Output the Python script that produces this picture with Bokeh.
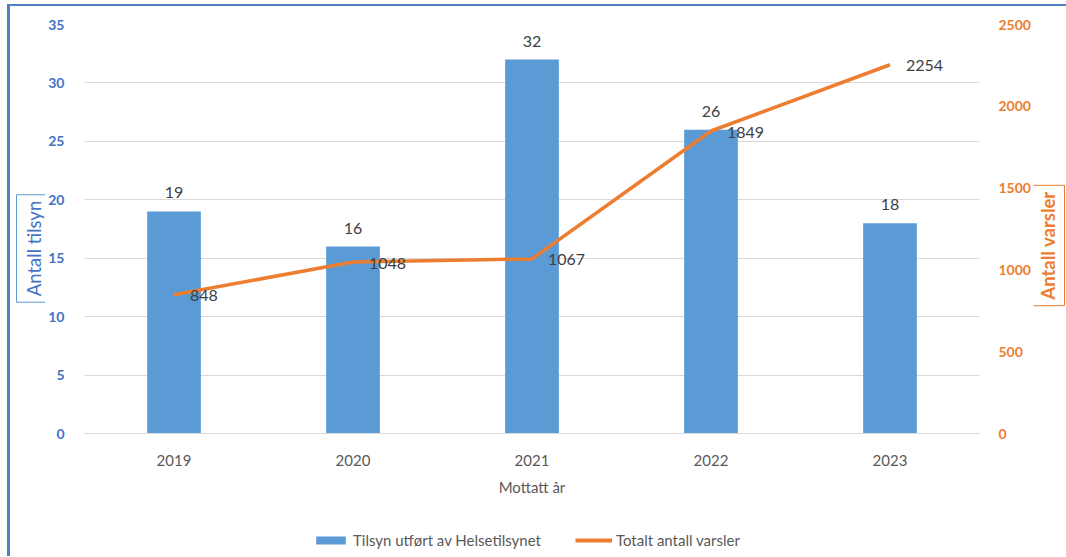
import math
from bokeh.plotting import figure
from bokeh.layouts import column, row
from bokeh.models import (ColumnDataSource, Range1d, LinearAxis, LabelSet, Label,
                          Legend, LegendItem, FactorRange, SingleIntervalTicker)
from bokeh.core.properties import value
from bokeh.embed import file_html
from bokeh.resources import INLINE

years = ["2019", "2020", "2021", "2022", "2023"]
tilsyn = [19, 16, 32, 26, 18]
varsler = [848, 1048, 1067, 1849, 2254]

BLUE = "#5B9BD5"
BLUE_TXT = "#4472C4"
ORANGE = "#ED7D31"
GREY_TXT = "#595959"
FONT = "Lato"

src = ColumnDataSource(dict(year=years, tilsyn=tilsyn, varsler=varsler,
                            tl=[str(v) for v in tilsyn], vl=[str(v) for v in varsler]))

p = figure(x_range=FactorRange(*years, range_padding=0), y_range=Range1d(0, 35),
           frame_width=895, frame_height=409, output_backend="svg", toolbar_location=None,
           min_border_left=35, min_border_right=50, min_border_top=18, min_border_bottom=0)
p.extra_y_ranges = {"v": Range1d(0, 2500)}
p.outline_line_color = None

bars = p.vbar(x="year", top="tilsyn", width=0.3, source=src, fill_color=BLUE, line_color=None)
line = p.line(x="year", y="varsler", source=src, line_color=ORANGE, line_width=3.5,
              y_range_name="v")

p.add_layout(LabelSet(x="year", y="tilsyn", text="tl", source=src, text_align="center",
                      text_baseline="bottom", y_offset=13, text_font=value(FONT),
                      text_font_size="16px", text_color="#404040"))
p.add_layout(LabelSet(x="year", y="varsler", text="vl", source=src, text_align="left",
                      text_baseline="middle", x_offset=16, y_offset=-1, text_font=value(FONT),
                      text_font_size="16px", text_color="#404040", y_range_name="v"))

# axes
p.yaxis.ticker = SingleIntervalTicker(interval=5)
ax = p.yaxis[0]
ax.axis_line_color = None
ax.major_tick_line_color = None
ax.minor_tick_line_color = None
ax.major_tick_out = 0
ax.major_tick_in = 0
ax.major_label_text_color = BLUE_TXT
ax.major_label_text_font_style = "bold"
ax.major_label_text_font = FONT
ax.major_label_text_font_size = "14px"
ax.major_label_standoff = 16

ra = LinearAxis(y_range_name="v", ticker=SingleIntervalTicker(interval=500))
ra.axis_line_color = None
ra.major_tick_line_color = None
ra.minor_tick_line_color = None
ra.major_tick_out = 0
ra.major_tick_in = 0
ra.major_label_text_color = ORANGE
ra.major_label_text_font_style = "bold"
ra.major_label_text_font = FONT
ra.major_label_text_font_size = "14px"
ra.major_label_standoff = 15
p.add_layout(ra, "right")

xa = p.xaxis[0]
xa.axis_line_color = "#D9D9D9"
xa.axis_line_width = 1
xa.major_tick_line_color = None
xa.minor_tick_line_color = None
xa.major_tick_out = 0
xa.major_tick_in = 0
xa.major_label_text_color = GREY_TXT
xa.major_label_text_font = FONT
xa.major_label_text_font_size = "15px"
xa.major_label_standoff = 21
xa.axis_label = "Mottatt år"
xa.axis_label_text_font = FONT
xa.axis_label_text_font_style = "normal"
xa.axis_label_text_font_size = "15px"
xa.axis_label_text_color = GREY_TXT
xa.axis_label_standoff = 9

p.xgrid.grid_line_color = None
p.ygrid.grid_line_color = "#D9D9D9"


def blank_fig(w, h):
    f = figure(frame_width=w, frame_height=h, min_border=0, toolbar_location=None,
               output_backend="svg", x_axis_location=None, y_axis_location=None,
               x_range=Range1d(0, 1), y_range=Range1d(0, 1))
    f.outline_line_color = None
    f.xgrid.visible = False
    f.ygrid.visible = False
    return f


def title_panel(text, color, border, bold, w, cx, cy):
    f = blank_fig(w, 500)
    f.add_layout(Label(x=cx, y=cy, x_units="screen", y_units="screen", text=text,
                       angle=math.pi / 2, text_align="center", text_baseline="middle",
                       text_font=FONT, text_font_size="18.5px",
                       text_font_style="bold" if bold else "normal", text_color=color,
                       border_line_color=border, border_line_width=1, padding=6,
                       background_fill_color="white"))
    return f


left_t = title_panel("Antall tilsyn", BLUE_TXT, BLUE, False, 35, 23, 276)
right_t = title_panel("Antall varsler", ORANGE, ORANGE, True, 41, 14, 279)

# legend strip under the chart (sample glyphs kept outside the visible range)
lf = blank_fig(1056, 50)
lb = lf.vbar(x=[-10], top=[-10], width=0.3, fill_color=BLUE, line_color=None)
ll = lf.line(x=[-10, -9], y=[-10, -10], line_color=ORANGE, line_width=4)
legend = Legend(items=[LegendItem(label="Tilsyn utført av Helsetilsynet", renderers=[lb]),
                       LegendItem(label="Totalt antall varsler", renderers=[ll])],
                orientation="horizontal", location=(302, 7), border_line_color=None,
                background_fill_alpha=0,
                label_text_font=FONT, label_text_font_size="15px",
                label_text_color=GREY_TXT, glyph_width=37, glyph_height=10,
                spacing=34, margin=0, padding=4, label_standoff=4)
lf.add_layout(legend)

page = column(row(left_t, p, right_t), lf,
              styles={"border-left": "3px solid #4F81BD", "border-top": "2px solid #4F81BD",
                      "margin-left": "7px", "margin-top": "4px"})

open("out.html", "w").write(file_html(page, INLINE))
